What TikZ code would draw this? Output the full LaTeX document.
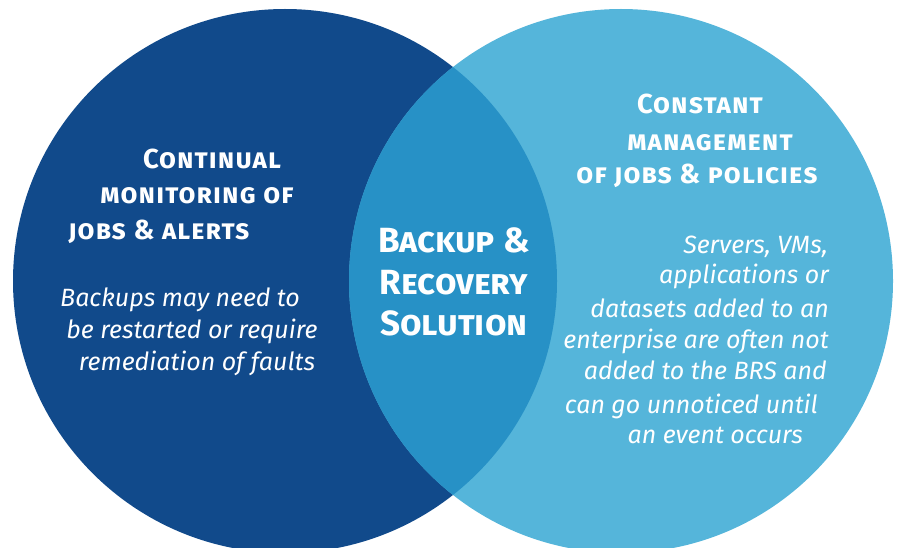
\documentclass[tikz,border=0pt]{standalone}
\usepackage{fontspec}
\setmainfont{Fira Sans}
\newfontfamily\headfont[LetterSpace=4]{Fira Sans}
\definecolor{leftblue}{HTML}{114A8B}
\definecolor{rightblue}{HTML}{55B5DA}
\definecolor{midblue}{HTML}{2791C6}
\tikzset{
  head/.style={anchor=base, text=white, inner sep=0pt, font=\headfont\bfseries\scshape\fontsize{27.5}{30}\selectfont},
  core/.style={anchor=base, text=white, inner sep=0pt, font=\bfseries\scshape\fontsize{35}{38}\selectfont},
  note/.style={text=white, inner sep=0pt, font=\itshape\fontsize{25}{28}\selectfont}
}
\begin{document}
\begin{tikzpicture}[x=1pt,y=-1pt]
    \useasboundingbox (0,0) rectangle (902,548);
    \fill[leftblue] (285,281) circle[radius=272pt];
    \fill[rightblue] (621,281) circle[radius=272pt];
    \begin{scope}
      \clip (285,281) circle[radius=272pt];
      \fill[midblue] (621,281) circle[radius=272pt];
    \end{scope}
    \node[head] (mon1) at (212,169) {Continual};
    \node[head] (mon2) at (197,204) {monitoring of};
    \node[head] (mon3) at (159,240) {jobs \& alerts};
    \node[note, anchor=base] (rem1) at (180,306) {Backups may need to};
    \node[note, anchor=base] (rem2) at (192,338) {be restarted or require};
    \node[note, anchor=base] (rem3) at (197,370) {remediation of faults};
    \node[core] (brs1) at (454,252) {Backup \&};
    \node[core] (brs2) at (454,294) {Recovery};
    \node[core] (brs3) at (454,335) {Solution};
    \node[head] (man1) at (700,114) {Constant};
    \node[head] (man2) at (710,151) {management};
    \node[head] (man3) at (697,184) {of jobs \& policies};
    \node[note, anchor=base east] (ent1) at (828,253) {Servers, VMs,};
    \node[note, anchor=base east] (ent2) at (829,283) {applications or};
    \node[note, anchor=base east] (ent3) at (829,317) {datasets added to an};
    \node[note, anchor=base east] (ent4) at (829,348) {enterprise are often not};
    \node[note, anchor=base east] (ent5) at (827,379) {added to the BRS and};
    \node[note, anchor=base east] (ent6) at (818,413) {can go unnoticed until};
    \node[note, anchor=base east] (ent7) at (803,443) {an event occurs};
\end{tikzpicture}
\end{document}
